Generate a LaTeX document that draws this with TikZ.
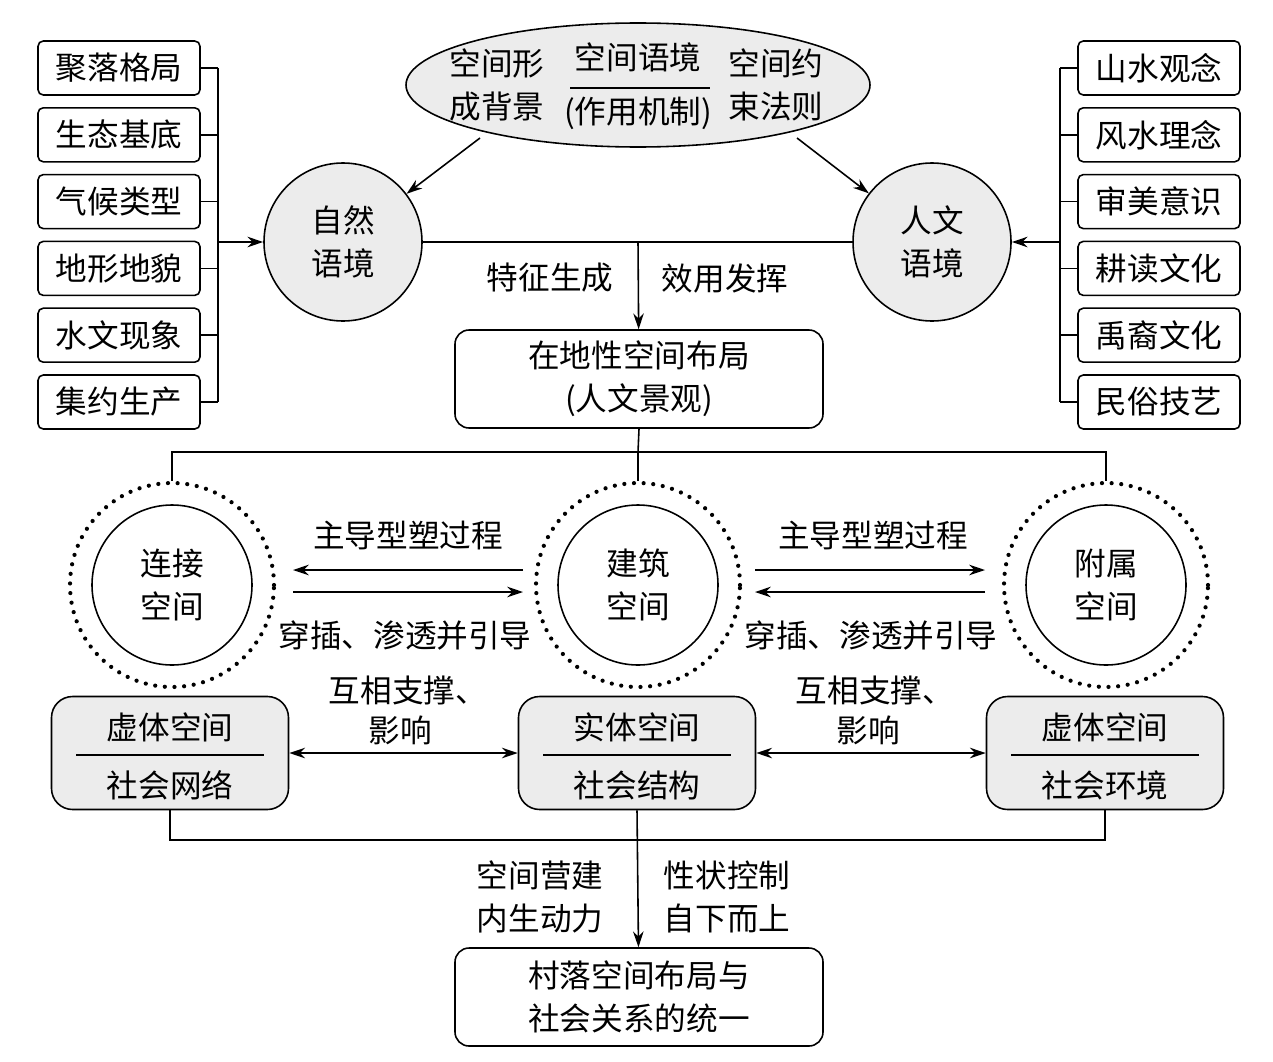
\documentclass[tikz,border=0pt]{standalone}
\usepackage{fontspec}
\setmainfont{Noto Sans CJK SC}
\usetikzlibrary{arrows.meta}
\begin{document}
\begin{tikzpicture}[x=0.02cm,y=-0.02cm,
  every node/.style={font=\fontsize{18}{24.5}\selectfont,align=center,inner sep=0pt},
  ln/.style={line width=0.9pt},
  ar/.style={ln,-{Stealth[length=9pt,width=6pt]}},
  gcirc/.style={draw,circle,line width=0.9pt,fill=gray!15,minimum size=158*0.02cm},
  dcirc/.style={draw,circle,line width=2.4pt,dash pattern=on 0pt off 5.5pt,line cap=round,minimum size=204*0.02cm},
  icirc/.style={draw,circle,line width=0.9pt,fill=white,minimum size=160*0.02cm},
  rbox/.style={draw,line width=0.9pt,rounded corners=8pt},
  gbox/.style={draw,line width=0.9pt,rounded corners=12pt,fill=gray!15}]
\useasboundingbox (0,0) rectangle (1273,1061);
% side boxes
\foreach \t [count=\i] in {聚落格局,生态基底,气候类型,地形地貌,水文现象,集约生产}{
  \pgfmathsetmacro\yy{68+(\i-1)*66.8}
  \draw[ln,rounded corners=3pt] (38,\yy-27) rectangle (200,\yy+27);
  \node (L\i) at (119,\yy) {\t};
  \draw[ln] (200,\yy) -- (218,\yy);
}
\foreach \t [count=\i] in {山水观念,风水理念,审美意识,耕读文化,禹裔文化,民俗技艺}{
  \pgfmathsetmacro\yy{68+(\i-1)*66.8}
  \draw[ln,rounded corners=3pt] (1078,\yy-27) rectangle (1240,\yy+27);
  \node (R\i) at (1159,\yy) {\t};
  \draw[ln] (1078,\yy) -- (1060,\yy);
}
\draw[ln] (218,68) -- (218,402);
\draw[ln] (1060,68) -- (1060,402);
% circles
\node[gcirc] (nat) at (343,242) {自然\\语境};
\node[gcirc] (hum) at (932,242) {人文\\语境};
\coordinate (lb) at (218,242);
\coordinate (rb) at (1060,242);
\draw[ar] (lb) -- (nat);
\draw[ar] (rb) -- (hum);
% ellipse
\draw[ln,fill=gray!15] (638,85) ellipse [x radius=232,y radius=62];
\node (e1) at (497,85) {空间形\\成背景};
\node (e2) at (638,86) {空间语境\\[6pt](作用机制)};
\draw[ln] (570,88) -- (710,88);
\node (e3) at (776,85) {空间约\\束法则};
\coordinate (ea) at (480,138);
\coordinate (eb) at (797,138);
\draw[ar] (ea) -- (nat);
\draw[ar] (eb) -- (hum);
\draw[ln] (nat) -- (hum);
% box 1
\node[rbox,minimum width=368*0.02cm,minimum height=98*0.02cm] (b1) at (639,379) {在地性空间布局\\(人文景观)};
\coordinate (m1) at (638,242);
\draw[ar] (m1) -- (b1);
\node at (550,278) {特征生成};
\node at (725,278) {效用发挥};
% dotted circles
\foreach \n/\x/\t in {c1/172/连接\\空间,c2/638/建筑\\空间,c3/1106/附属\\空间}{
  \node[dcirc] (\n d) at (\x,585) {};
  \node[icirc] (\n) at (\x,585) {\t};
}
\coordinate (j1) at (638,452);
\draw[ln] (b1.south) -- (j1);
\draw[ln] (c1d.north) |- (j1) -| (c3d.north);
\draw[ln] (j1) -- (c2d.north);
% arrows between
\draw[ar] (523,570) -- (293,570);
\draw[ar] (293,592) -- (523,592);
\draw[ar] (755,570) -- (985,570);
\draw[ar] (985,592) -- (755,592);
\node at (408,535) {主导型塑过程};
\node at (405,635) {穿插、渗透并引导};
\node at (873,535) {主导型塑过程};
\node at (871,635) {穿插、渗透并引导};
% lower boxes
\foreach \n/\x/\a/\b in {g1/170/虚体空间/社会网络,g2/637/实体空间/社会结构,g3/1105/虚体空间/社会环境}{
  \node[gbox,minimum width=237*0.02cm,minimum height=113*0.02cm] (\n) at (\x,753) {};
  \node at (\x,727) {\a};
  \node at (\x,785) {\b};
  \draw[ln] (\x-94,755) -- (\x+94,755);
}
\draw[ln,{Stealth[length=9pt,width=6pt]}-{Stealth[length=9pt,width=6pt]}] (g1) -- (g2);
\draw[ln,{Stealth[length=9pt,width=6pt]}-{Stealth[length=9pt,width=6pt]}] (g2) -- (g3);
\node at (408,690) {互相支撑、};
\node at (400,730) {影响};
\node at (875,690) {互相支撑、};
\node at (868,730) {影响};
\coordinate (j2) at (638,840);
\draw[ln] (g1.south) |- (j2) -| (g3.south);
% bottom box
\node[rbox,minimum width=368*0.02cm,minimum height=98*0.02cm] (b2) at (639,997) {村落空间布局与\\社会关系的统一};
\draw[ar] (g2.south) -- (b2);
\node at (540,897) {空间营建\\内生动力};
\node at (727,897) {性状控制\\自下而上};
\end{tikzpicture}
\end{document}
